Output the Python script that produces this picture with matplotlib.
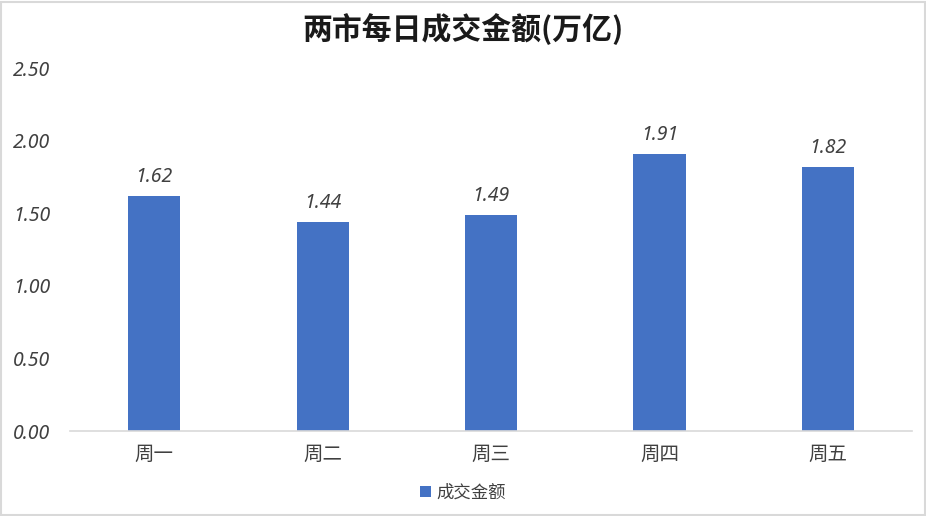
import matplotlib
matplotlib.use('Agg')
import matplotlib.pyplot as plt
from matplotlib.patches import Rectangle

plt.rcParams['font.family'] = ['Noto Sans CJK SC', 'DejaVu Sans']

days = ['周一', '周二', '周三', '周四', '周五']
amounts = [1.62, 1.44, 1.49, 1.91, 1.82]
yticks = [0.0, 0.5, 1.0, 1.5, 2.0, 2.5]

bar_color = '#4472C4'
text_color = '#404040'
num_font = ['Noto Sans', 'DejaVu Sans']

fig = plt.figure(figsize=(9.26, 5.16), dpi=100)
ax = fig.add_axes([0.0756, 0.1647, 0.9094, 0.7035])

x = list(range(len(days)))
bars = ax.bar(x, amounts, width=0.31, color=bar_color, label='成交金额', zorder=2)

for xi, v in zip(x, amounts):
    ax.text(xi, v + 0.06, '%.2f' % v, ha='center', va='bottom', family=num_font,
            fontsize=14, color=text_color, style='italic')

ax.set_xlim(-0.5, len(days) - 0.5)
ax.set_ylim(0, 2.5)
ax.set_yticks(yticks)
ax.set_yticklabels(['%.2f' % t for t in yticks], fontsize=14, color=text_color,
                   style='italic', family=num_font)
ax.set_xticks(x)
ax.set_xticklabels(days, fontsize=14, color=text_color, style='italic')
ax.tick_params(axis='both', length=0)
ax.tick_params(axis='x', pad=9)
ax.tick_params(axis='y', pad=14)

for s in ['top', 'right', 'left']:
    ax.spines[s].set_visible(False)
ax.spines['bottom'].set_color('#d9d9d9')
ax.spines['bottom'].set_linewidth(1.2)

fig.text(0.5, 0.943, '两市每日成交金额(万亿)', ha='center', va='center',
         fontsize=21.5, fontweight='bold', color='#1a1a1a', style='italic')

leg = fig.legend(handles=[bars], labels=['成交金额'], loc='center',
                 bbox_to_anchor=(0.5, 0.045), frameon=False, fontsize=12.5,
                 handlelength=0.6, handleheight=0.6, handletextpad=0.3)
for t in leg.get_texts():
    t.set_color(text_color)
    t.set_style('italic')

fig.patches.append(Rectangle((0.001, 0.001), 0.998, 0.996, transform=fig.transFigure,
                             fill=False, edgecolor='#d9d9d9', linewidth=1.5))

fig.savefig('out.png', dpi=100)
